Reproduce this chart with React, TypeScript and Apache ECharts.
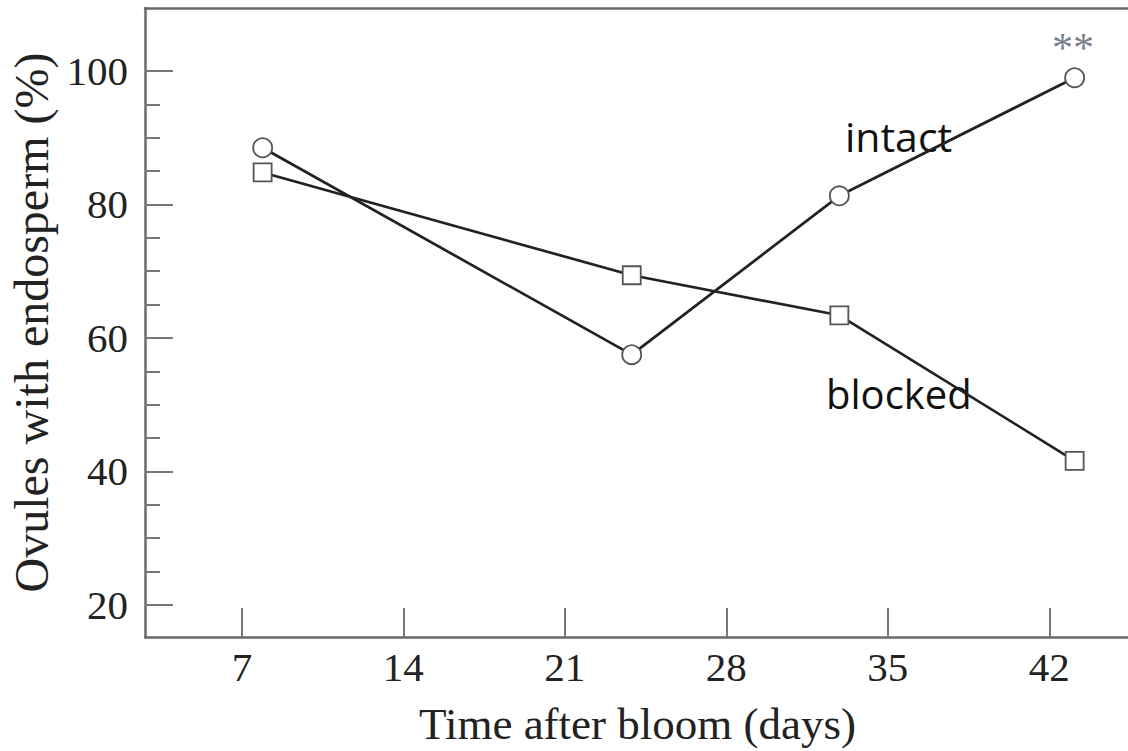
import React, { useEffect, useRef } from "react";
import * as echarts from "echarts";

const days = [7.9, 23.9, 32.9, 43.1];
const intact = [88.5, 57.5, 81.3, 99.0];
const blocked = [84.8, 69.4, 63.4, 41.6];
const xTicks = [7, 14, 21, 28, 35, 42];
const yMajor = [20, 40, 60, 80, 100];
const yMinor = [25, 30, 35, 45, 50, 55, 65, 70, 75, 85, 90, 95];
const xTitle = "Time after bloom (days)";
const yTitle = "Ovules with endosperm (%)";
const labelIntact = "intact";
const labelBlocked = "blocked";
const significance = "**";

const SERIF = "'Liberation Serif', 'DejaVu Serif', serif";
const SANS = "'Open Sans', 'Noto Sans', sans-serif";
const AXIS = "#6a6a6a";

export default function App() {
  const ref = useRef<HTMLDivElement>(null);
  useEffect(() => {
    const chart = echarts.init(ref.current!, null, { renderer: "svg" });
    const xMin = 2.8, xMax = 45.5, yMin = 15.2, yMax = 109.44;
    chart.setOption({
      animation: false,
      backgroundColor: "#ffffff",
      grid: { left: 145, top: 8, width: 985, height: 629, containLabel: false, outerBoundsMode: "none" },
      xAxis: [
        {
          type: "value", min: xMin, max: xMax, position: "bottom",
          axisLine: { onZero: false, lineStyle: { color: AXIS, width: 2.5 } },
          axisTick: { inside: true, length: 29, customValues: xTicks, lineStyle: { color: "#777", width: 2 } },
          axisLabel: { customValues: xTicks, fontFamily: SERIF, fontSize: 41, color: "#222", margin: 9 },
          splitLine: { show: false },
          name: xTitle, nameLocation: "middle", nameGap: 64,
          nameTextStyle: { fontFamily: SERIF, fontSize: 45, color: "#222" },
        },
        {
          type: "value", min: xMin, max: xMax, position: "top",
          axisLine: { onZero: false, lineStyle: { color: AXIS, width: 2.5 } },
          axisTick: { show: false }, axisLabel: { show: false }, splitLine: { show: false },
        },
      ],
      yAxis: [
        {
          type: "value", min: yMin, max: yMax, position: "left",
          axisLine: { show: true, onZero: false, lineStyle: { color: AXIS, width: 2.5 } },
          axisTick: { show: true, inside: true, length: 28, customValues: yMajor, lineStyle: { color: "#777", width: 2 } },
          axisLabel: { customValues: yMajor, fontFamily: SERIF, fontSize: 41, color: "#222", margin: 17 },
          splitLine: { show: false },
          name: yTitle, nameLocation: "middle", nameGap: 88,
          nameTextStyle: { fontFamily: SERIF, fontSize: 48, color: "#222" },
        },
        {
          type: "value", min: yMin, max: yMax, position: "left",
          axisLine: { show: false, onZero: false },
          axisTick: { show: true, inside: true, length: 15, customValues: yMinor, lineStyle: { color: "#777", width: 2 } },
          axisLabel: { show: false }, splitLine: { show: false },
        },
      ],
      series: [
        {
          type: "line", name: "intact", xAxisIndex: 0, yAxisIndex: 0,
          data: days.map((d, i) => [d, intact[i]]),
          symbol: "circle", symbolSize: 19,
          lineStyle: { color: "#222", width: 2.7 },
          itemStyle: { color: "#fff", borderColor: "#555", borderWidth: 1.8 },
        },
        {
          type: "line", name: "blocked", xAxisIndex: 0, yAxisIndex: 0,
          data: days.map((d, i) => [d, blocked[i]]),
          symbol: "rect", symbolSize: 18,
          lineStyle: { color: "#222", width: 2.7 },
          itemStyle: { color: "#fff", borderColor: "#555", borderWidth: 1.8 },
        },
      ],
      graphic: [
        { type: "text", left: 845, top: 115, style: { text: labelIntact, font: `41px ${SANS}`, fill: "#111" } },
        { type: "text", left: 826, top: 373, style: { text: labelBlocked, font: `40px ${SANS}`, fill: "#111" } },
        { type: "text", left: 1052, top: 27, style: { text: significance, font: `42px ${SERIF}`, fill: "#7a7f8c" } },
      ],
    });
    return () => chart.dispose();
  }, []);
  return <div ref={ref} style={{ position: "fixed", left: 0, top: 0, width: 1128, height: 751 }} />;
}
